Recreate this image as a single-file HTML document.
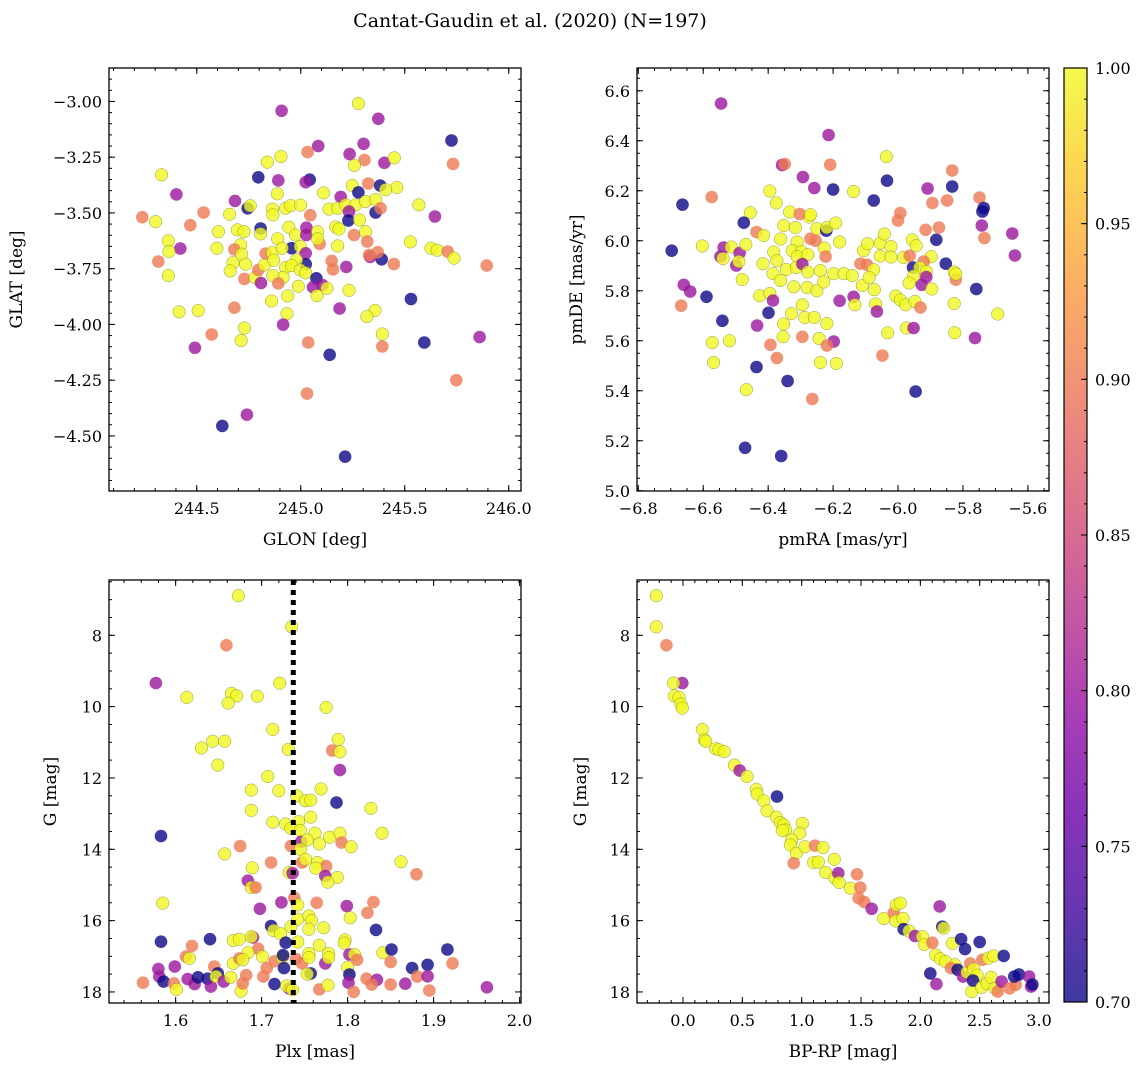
<!DOCTYPE html>
<html><head><meta charset="utf-8"><style>
html,body{margin:0;padding:0;background:#fff;}
svg{display:block;font-family:"DejaVu Serif","Liberation Serif",serif;}
</style></head><body>
<svg id="fig" width="1148" height="1068" viewBox="0 0 1148 1068" xmlns="http://www.w3.org/2000/svg">
<defs>
<linearGradient id="plasmaGrad" x1="0" y1="1" x2="0" y2="0">
<stop offset="0" stop-color="#0d0887"/><stop offset="0.1" stop-color="#41049d"/><stop offset="0.2" stop-color="#6a00a8"/><stop offset="0.3" stop-color="#8f0da4"/><stop offset="0.4" stop-color="#b12a90"/><stop offset="0.5" stop-color="#cc4778"/><stop offset="0.6" stop-color="#e16462"/><stop offset="0.7" stop-color="#f2844b"/><stop offset="0.8" stop-color="#fca636"/><stop offset="0.9" stop-color="#fcce25"/><stop offset="1" stop-color="#f0f921"/>
</linearGradient>
</defs>
<text x="530" y="27" font-size="19" text-anchor="middle">Cantat-Gaudin et al. (2020) (N=197)</text>
</svg>
<script>
// ---- data: panel 1 (GLON vs GLAT) ----
const p1Lon=[244.908,245.277,245.373,245.725,245.732,245.084,245.033,245.302,245.235,245.306,245.402,245.450,245.258,244.839,244.905,244.331,244.796,244.892,245.043,245.024,244.402,244.684,244.887,245.110,245.248,245.325,245.382,245.462,245.408,245.192,245.277,245.568,245.645,244.238,244.302,244.469,244.533,244.658,244.745,244.757,244.863,244.866,244.927,244.951,244.999,245.046,245.136,245.176,245.216,245.264,245.312,245.360,245.232,245.360,245.384,245.229,245.283,245.168,245.184,245.256,245.312,245.320,245.527,245.626,245.656,245.706,245.737,245.894,245.448,245.389,245.334,245.370,245.328,244.363,244.421,244.366,244.315,244.363,244.604,244.597,244.695,244.727,244.807,244.807,244.711,244.681,244.716,244.674,244.735,244.661,244.729,244.780,244.809,244.796,244.825,244.831,244.863,244.870,244.889,244.943,244.975,244.956,244.911,244.998,245.027,245.027,245.024,245.081,245.091,245.081,245.177,245.024,244.979,244.927,244.956,244.998,245.024,244.915,244.866,244.892,244.988,245.075,245.104,245.059,245.126,245.149,245.155,245.219,245.232,245.078,244.937,244.860,245.530,244.415,244.507,244.681,244.934,244.915,245.187,245.357,245.318,244.729,244.713,244.572,244.491,245.036,245.139,245.392,245.392,245.594,245.860,245.748,245.030,244.741,244.623,245.213];
const p1Lat=[-3.042,-3.009,-3.078,-3.175,-3.280,-3.200,-3.227,-3.190,-3.236,-3.263,-3.275,-3.253,-3.287,-3.272,-3.247,-3.329,-3.340,-3.354,-3.351,-3.362,-3.417,-3.446,-3.414,-3.410,-3.377,-3.368,-3.377,-3.386,-3.396,-3.428,-3.408,-3.464,-3.516,-3.519,-3.539,-3.555,-3.498,-3.506,-3.479,-3.468,-3.483,-3.509,-3.479,-3.467,-3.465,-3.510,-3.483,-3.479,-3.464,-3.464,-3.449,-3.440,-3.494,-3.498,-3.479,-3.534,-3.531,-3.563,-3.572,-3.599,-3.584,-3.628,-3.630,-3.658,-3.667,-3.673,-3.703,-3.736,-3.729,-3.708,-3.697,-3.676,-3.688,-3.625,-3.660,-3.673,-3.718,-3.781,-3.584,-3.658,-3.576,-3.584,-3.570,-3.594,-3.643,-3.664,-3.685,-3.723,-3.730,-3.760,-3.796,-3.790,-3.814,-3.756,-3.733,-3.682,-3.678,-3.712,-3.616,-3.564,-3.599,-3.658,-3.658,-3.651,-3.566,-3.599,-3.681,-3.584,-3.639,-3.616,-3.648,-3.730,-3.711,-3.745,-3.736,-3.756,-3.769,-3.789,-3.781,-3.816,-3.829,-3.793,-3.823,-3.833,-3.838,-3.715,-3.753,-3.742,-3.847,-3.871,-3.872,-3.895,-3.886,-3.944,-3.938,-3.925,-3.952,-4.001,-3.929,-3.937,-3.965,-4.016,-4.072,-4.045,-4.105,-4.081,-4.136,-4.043,-4.099,-4.081,-4.057,-4.250,-4.310,-4.405,-4.455,-4.593];
const p1Prob=("MYMBOMOMMO"+"MYYYYYBMBM"+"MMYYYOBYYM"+"BYMOYOOYBY"+"YYYYYOYYYY"+"YYMBOBYYYO"+"YOYYYOYOOB"+"MOOYMYOYYY"+"YYBYYOYYYY"+"OYMOYOYYYY"+"YBYYMMMYOY"+"YBYYYYYYYO"+"YBMMYOOMYY"+"YYBYYOYMMY"+"YYYOMOBYOB"+"MOOMBB").split('');
// ---- data: panel 2 (pmRA vs pmDE) ----
const p2Pmra=[-6.545,-6.214,-6.036,-6.209,-6.357,-6.349,-5.833,-6.293,-6.258,-6.200,-6.034,-5.909,-5.833,-5.749,-5.736,-5.740,-6.664,-6.574,-6.395,-6.137,-6.075,-5.894,-5.849,-6.375,-6.334,-6.274,-6.303,-6.455,-6.475,-5.993,-6.000,-5.742,-5.734,-5.648,-5.640,-5.874,-5.915,-5.882,-5.853,-5.759,-6.697,-6.603,-6.537,-6.547,-6.539,-6.514,-6.488,-6.498,-6.490,-6.469,-6.436,-6.414,-6.352,-6.316,-6.270,-6.250,-6.221,-6.219,-6.192,-6.180,-6.362,-6.311,-6.270,-6.254,-6.227,-6.223,-6.326,-6.297,-6.311,-6.278,-6.383,-6.373,-6.416,-6.385,-6.344,-6.313,-6.295,-6.278,-6.239,-6.362,-6.321,-6.280,-6.250,-6.229,-6.198,-6.167,-6.141,-6.116,-6.096,-6.110,-6.075,-6.089,-6.073,-6.106,-6.094,-6.055,-6.042,-6.022,-6.055,-6.022,-5.983,-5.964,-5.956,-5.944,-5.898,-5.921,-5.954,-5.933,-5.913,-5.913,-5.927,-5.952,-5.966,-5.896,-5.827,-5.822,-5.822,-6.007,-5.993,-5.976,-5.948,-5.931,-5.827,-5.693,-6.069,-6.137,-6.133,-6.180,-6.065,-6.032,-5.974,-5.952,-5.825,-5.763,-6.048,-6.668,-6.660,-6.640,-6.590,-6.541,-6.572,-6.519,-6.568,-6.480,-6.426,-6.395,-6.385,-6.399,-6.434,-6.393,-6.373,-6.354,-6.352,-6.328,-6.295,-6.287,-6.258,-6.295,-6.219,-6.243,-6.198,-6.219,-6.239,-6.190,-6.436,-6.340,-6.467,-6.264,-5.946,-6.471,-6.360];
const p2Pmde=[6.549,6.423,6.336,6.304,6.303,6.307,6.281,6.255,6.211,6.205,6.240,6.209,6.217,6.173,6.131,6.117,6.144,6.175,6.199,6.197,6.161,6.151,6.161,6.151,6.115,6.095,6.107,6.112,6.072,6.111,6.081,6.061,6.011,6.029,5.941,6.053,6.044,6.004,5.908,5.807,5.960,5.979,5.973,5.937,5.929,5.975,5.951,5.901,5.917,5.985,6.035,6.021,6.061,6.053,6.104,6.048,6.040,6.053,6.071,5.995,6.007,5.995,6.008,6.000,5.971,5.937,5.960,5.957,5.936,5.944,5.955,5.920,5.908,5.869,5.885,5.893,5.907,5.875,5.881,5.841,5.816,5.813,5.800,5.835,5.868,5.868,5.861,5.908,5.904,5.821,5.884,5.853,5.804,5.960,5.988,5.991,6.027,5.977,5.939,5.935,5.933,5.940,6.004,5.980,5.936,5.917,5.893,5.893,5.877,5.855,5.824,5.859,5.831,5.807,5.875,5.844,5.867,5.779,5.763,5.744,5.757,5.733,5.749,5.707,5.747,5.776,5.744,5.760,5.717,5.632,5.651,5.651,5.632,5.611,5.541,5.740,5.824,5.797,5.776,5.680,5.593,5.600,5.513,5.845,5.780,5.789,5.761,5.712,5.661,5.584,5.531,5.616,5.667,5.709,5.744,5.693,5.693,5.616,5.669,5.609,5.597,5.581,5.513,5.509,5.495,5.439,5.404,5.367,5.397,5.172,5.139];
const p2Prob=("MMYOMOOMMB"+"BMBOBBBOYY"+"BOOYYYOYBO"+"OMOMMOOBBB"+"BYMMYYMMYY"+"OYYYYYBYYY"+"YYOOYOYYYY"+"YYYYYYMYYY"+"YYYYYYYOOY"+"YYYYYYYYYY"+"YOYYYOBYYM"+"MYYYYOYYYY"+"YOYYYMYMMY"+"YMYMOOMMBB"+"YYYYYYMBMO"+"OYYYYYYOYY"+"MOYYBBYOBBB").split('');
// ---- data: panel 3 (Plx vs G) ----
const p3Plx=[1.673,1.735,1.659,1.577,1.613,1.665,1.671,1.661,1.695,1.721,1.775,1.713,1.630,1.643,1.657,1.649,1.731,1.789,1.782,1.791,1.791,1.707,1.688,1.720,1.769,1.741,1.751,1.757,1.787,1.827,1.688,1.713,1.728,1.743,1.757,1.734,1.745,1.762,1.779,1.791,1.746,1.753,1.767,1.793,1.804,1.734,1.745,1.840,1.583,1.657,1.675,1.711,1.689,1.747,1.751,1.765,1.775,1.763,1.732,1.736,1.774,1.788,1.777,1.862,1.880,1.684,1.688,1.693,1.585,1.698,1.723,1.738,1.742,1.764,1.799,1.803,1.830,1.823,1.742,1.755,1.758,1.755,1.772,1.711,1.714,1.722,1.734,1.728,1.742,1.833,1.583,1.640,1.619,1.667,1.674,1.690,1.688,1.696,1.684,1.701,1.667,1.674,1.678,1.612,1.616,1.599,1.580,1.581,1.586,1.562,1.598,1.601,1.614,1.622,1.626,1.637,1.641,1.645,1.649,1.647,1.656,1.664,1.676,1.678,1.682,1.702,1.706,1.715,1.715,1.724,1.725,1.726,1.732,1.729,1.736,1.740,1.747,1.755,1.755,1.767,1.757,1.753,1.774,1.778,1.778,1.767,1.777,1.797,1.796,1.800,1.802,1.808,1.811,1.802,1.801,1.807,1.822,1.834,1.828,1.841,1.850,1.851,1.850,1.867,1.875,1.881,1.893,1.893,1.895,1.916,1.922,1.962];
const p3G=[6.89,7.76,8.28,9.34,9.74,9.63,9.70,9.90,9.71,9.34,10.02,10.64,11.16,10.97,10.97,11.64,11.20,10.92,11.23,11.27,11.78,11.96,12.34,12.36,12.31,12.50,12.64,12.62,12.69,12.85,12.91,13.24,13.29,13.22,13.10,13.41,13.47,13.55,13.66,13.55,13.79,13.74,13.85,13.81,13.93,13.91,14.00,13.55,13.63,14.13,13.91,14.37,14.52,14.37,14.28,14.37,14.47,14.53,14.65,14.67,14.75,14.79,14.92,14.35,14.70,14.88,15.07,15.07,15.51,15.67,15.49,15.36,15.56,15.50,15.59,15.92,15.48,15.78,15.96,15.87,16.00,16.24,16.20,16.15,16.28,16.37,16.17,16.62,16.60,16.26,16.59,16.52,16.71,16.56,16.52,16.47,16.45,16.79,16.90,17.01,17.20,17.06,17.10,17.01,17.06,17.29,17.36,17.57,17.71,17.74,17.76,17.93,17.64,17.78,17.59,17.63,17.85,17.29,17.48,17.57,17.71,17.59,17.98,17.76,17.53,17.57,17.33,17.78,17.14,17.03,16.97,17.33,17.90,17.83,17.94,17.08,17.20,16.92,17.03,16.69,17.48,17.50,17.20,16.92,17.04,17.93,17.81,16.54,16.63,17.31,16.95,16.95,17.10,17.51,17.74,18.00,17.63,17.66,17.79,16.90,17.16,16.81,17.79,17.77,17.33,17.57,17.24,17.56,17.96,16.81,17.20,17.87];
const p3Prob=("YYOMYYYYYY"+"YYYYYYYYOY"+"MYYYYYYYBY"+"YYYYYYYYYY"+"MYYOYOYYBY"+"OOYOYYOYYM"+"MYYYOMYOYM"+"MOYOMYOOYY"+"YYYBYYYBYB"+"BBOYYMYOYY"+"YOYOYMMMBO"+"OYMMBBMOBY"+"MYYOOOOBOY"+"BBMYYOOYYY"+"BYMYYOYYYY"+"MYOBMOOMOY"+"OBOMBOBMOBOM").split('');
const plxMean=[1.7368];
// ---- data: panel 4 (BP-RP vs G) ----
const p4Bprp=[-0.225,-0.225,-0.140,-0.006,-0.079,-0.073,-0.034,-0.017,-0.006,0.163,0.180,0.191,0.275,0.303,0.348,0.433,0.478,0.539,0.618,0.624,0.680,0.708,0.792,0.787,0.820,0.848,0.865,0.837,1.006,0.983,0.916,0.904,0.955,0.933,1.028,1.112,1.180,1.101,1.140,1.202,1.275,1.281,1.309,1.315,1.410,1.466,1.494,1.480,1.528,1.590,1.691,1.775,1.798,1.831,1.792,1.854,1.860,1.904,1.955,2.017,2.034,2.101,2.163,2.185,2.197,2.084,2.135,2.129,2.169,2.270,2.213,2.292,2.258,2.343,2.376,2.315,2.360,2.393,2.421,2.500,2.522,2.449,2.478,2.433,2.444,2.517,2.562,2.596,2.573,2.618,2.702,2.629,2.652,2.685,2.753,2.803,2.792,2.831,2.916,2.933,2.944];
const p4G=[6.89,7.76,8.28,9.34,9.34,9.70,9.74,9.93,10.04,10.64,10.93,10.97,11.18,11.21,11.26,11.64,11.79,11.96,12.32,12.45,12.64,12.92,12.52,13.10,13.25,13.32,13.46,13.47,13.27,13.55,13.74,13.88,14.11,14.39,13.93,13.90,13.95,14.37,14.36,14.65,14.28,14.81,14.67,14.93,15.09,14.70,15.07,15.37,15.48,15.67,15.94,15.79,15.56,15.51,16.01,15.94,16.24,16.29,16.43,16.45,16.67,16.62,15.60,16.17,16.21,17.48,17.78,16.96,17.07,16.64,17.15,17.24,17.33,16.52,16.80,17.38,17.57,17.45,17.20,16.60,17.10,17.36,17.53,17.99,17.68,17.87,17.76,17.59,17.05,16.99,16.99,17.90,17.99,17.71,17.90,17.80,17.57,17.51,17.57,17.85,17.79];
const p4Prob=("YYOMYYYYYY"+"YYYYYYMYYY"+"YYBYYYYYYY"+"YYYOYOYYYY"+"YYMYYOOOOM"+"YOYYYYBYMY"+"YOMBYBMYYY"+"YYOBBBMYOB"+"OYYYBYYYYY"+"BYOMOOBBMMB").split('');
const probCode={Y:1.0,O:0.9,M:0.8,B:0.7};
// ---- colorbar ticks ----
const cbTicks=[0.70,0.75,0.80,0.85,0.90,0.95,1.00];

const NS='http://www.w3.org/2000/svg';
const svg=document.getElementById('fig');
function el(tag,attrs,parent){const e=document.createElementNS(NS,tag);for(const k in attrs)e.setAttribute(k,attrs[k]);(parent||svg).appendChild(e);return e;}
const stops=['#0d0887','#41049d','#6a00a8','#8f0da4','#b12a90','#cc4778','#e16462','#f2844b','#fca636','#fcce25','#f0f921'];
function hex(h){return [parseInt(h.substr(1,2),16),parseInt(h.substr(3,2),16),parseInt(h.substr(5,2),16)];}
function plasma(v){let t=Math.max(0,Math.min(1,(v-0.7)/0.3))*10;const i=Math.min(9,Math.floor(t)),f=t-i;const a=hex(stops[i]),b=hex(stops[i+1]);return 'rgb('+a.map((c,k)=>Math.round(c+(b[k]-c)*f)).join(',')+')';}
function fmt(v,d){return (v<0?'\u2212':'')+Math.abs(v).toFixed(d);}

function panel(cfg){
  const g=el('g',{});
  
  
  const B=cfg.box;
  const sx=v=>B.x+(v-cfg.xd[0])/(cfg.xd[1]-cfg.xd[0])*B.w;
  const sy=cfg.yInv?(v=>B.y+(v-cfg.yd[0])/(cfg.yd[1]-cfg.yd[0])*B.h):(v=>B.y+B.h-(v-cfg.yd[0])/(cfg.yd[1]-cfg.yd[0])*B.h);
  // points
  const pg=el('g',{},g);
  
  
  const n=Math.min(cfg.xs.length,cfg.ys.length,cfg.cs.length);
  for(let i=0;i<n;i++){
    const c=probCode[cfg.cs[i]];
    const cx=sx(cfg.xs[i]),cy=sy(cfg.ys[i]);
    if(cx<B.x||cx>B.x+B.w||cy<B.y||cy>B.y+B.h)continue;
    const p=el('circle',{cx:cx.toFixed(1),cy:cy.toFixed(1),r:6.3,fill:plasma(c),'fill-opacity':0.8,stroke:c>0.97?'#6f6f20':'none','stroke-width':0.5,'stroke-opacity':0.7},pg);
    
    
  }
  if(cfg.extra)cfg.extra(g,sx,sy);
  // ticks
  const tg=el('g',{stroke:'#000','stroke-width':1},g);
  const eps=1e-9;
  function xt(v,len){const x=sx(v);if(x<B.x-0.5||x>B.x+B.w+0.5)return;el('line',{x1:x,y1:B.y+B.h,x2:x,y2:B.y+B.h-len},tg);el('line',{x1:x,y1:B.y,x2:x,y2:B.y+len},tg);}
  function yt(v,len){const y=sy(v);if(y<B.y-0.5||y>B.y+B.h+0.5)return;el('line',{x1:B.x,y1:y,x2:B.x+len,y2:y},tg);el('line',{x1:B.x+B.w,y1:y,x2:B.x+B.w-len,y2:y},tg);}
  for(let v=Math.ceil(cfg.xd[0]/cfg.xmin-eps)*cfg.xmin;v<=cfg.xd[1]+eps;v+=cfg.xmin)xt(v,3);
  const ylo=Math.min(cfg.yd[0],cfg.yd[1]),yhi=Math.max(cfg.yd[0],cfg.yd[1]);
  for(let v=Math.ceil(ylo/cfg.ymin-eps)*cfg.ymin;v<=yhi+eps;v+=cfg.ymin)yt(v,3);
  cfg.xticks.forEach(v=>{xt(v,6);const t=el('text',{x:sx(v),y:B.y+B.h+23,'font-size':16,'text-anchor':'middle'},g);t.textContent=fmt(v,cfg.xdec);});
  cfg.yticks.forEach(v=>{yt(v,6);const t=el('text',{x:B.x-7,y:sy(v)+6,'font-size':16,'text-anchor':'end'},g);t.textContent=fmt(v,cfg.ydec);});
  const fr=el('rect',{x:B.x,y:B.y,width:B.w,height:B.h,fill:'none',stroke:'#000','stroke-width':1.3},g);
  
  
  const xl=el('text',{x:B.x+B.w/2,y:B.y+B.h+54,'font-size':17,'text-anchor':'middle'},g);
  xl.textContent=cfg.xlabel;
  
  
  const yl=el('text',{x:0,y:0,'font-size':17,'text-anchor':'middle',transform:'translate('+cfg.ylx+','+(B.y+B.h/2)+') rotate(-90)'},g);
  yl.textContent=cfg.ylabel;
  
  
}
function range(a,b,s){const r=[];for(let v=a;v<=b+1e-9;v+=s)r.push(Math.round(v*1000)/1000);return r;}

panel({name:'glon-glat-panel',box:{x:109,y:68,w:412,h:423},xd:[244.078,246.059],yd:[-4.747,-2.850],xs:p1Lon,ys:p1Lat,cs:p1Prob,
  xticks:range(244.5,246,0.5),xdec:1,xmin:0.1,yticks:range(-4.5,-3.0,0.25),ydec:2,ymin:0.05,xlabel:'GLON [deg]',ylabel:'GLAT [deg]',ylx:22});
panel({name:'proper-motion-panel',box:{x:637,y:68,w:412,h:423},xd:[-6.804,-5.535],yd:[4.999,6.691],xs:p2Pmra,ys:p2Pmde,cs:p2Prob,
  xticks:range(-6.8,-5.6,0.2),xdec:1,xmin:0.05,yticks:range(5.0,6.6,0.2),ydec:1,ymin:0.05,xlabel:'pmRA [mas/yr]',ylabel:'pmDE [mas/yr]',ylx:582});
panel({name:'parallax-mag-panel',box:{x:109,y:580,w:412,h:423},xd:[1.5225,2.0016],yd:[6.449,18.31],yInv:true,xs:p3Plx,ys:p3G,cs:p3Prob,
  xticks:range(1.6,2.0,0.1),xdec:1,xmin:0.02,yticks:range(8,18,2),ydec:0,ymin:0.5,xlabel:'Plx [mas]',ylabel:'G [mag]',ylx:56,
  extra:(g,sx,sy)=>{plxMean.forEach(m=>{const l=el('line',{x1:sx(m),y1:580,x2:sx(m),y2:1003,stroke:'#000','stroke-width':5,'stroke-dasharray':'5,5'},g);});}});
panel({name:'cmd-panel',box:{x:637,y:580,w:412,h:423},xd:[-0.3876,3.084],yd:[6.449,18.31],yInv:true,xs:p4Bprp,ys:p4G,cs:p4Prob,
  xticks:range(0,3,0.5),xdec:1,xmin:0.1,yticks:range(8,18,2),ydec:0,ymin:0.5,xlabel:'BP-RP [mag]',ylabel:'G [mag]',ylx:586});

// colorbar
const cb=el('g',{});


const cbx=1064,cbw=23,cby=68,cbh=934;
const cbr=el('rect',{x:cbx,y:cby,width:cbw,height:cbh,fill:'url(#plasmaGrad)','fill-opacity':0.8},cb);


const cys=v=>cby+cbh-(v-0.7)/0.3*cbh;
for(let i=0;i<=30;i++){const v=0.7+i*0.01;el('line',{x1:cbx+cbw,y1:cys(v),x2:cbx+cbw-3,y2:cys(v),stroke:'#000','stroke-width':1},cb);}
cbTicks.forEach(v=>{el('line',{x1:cbx+cbw,y1:cys(v),x2:cbx+cbw-6,y2:cys(v),stroke:'#000','stroke-width':1},cb);
  const t=el('text',{x:cbx+cbw+8,y:cys(v)+6,'font-size':16},cb);t.textContent=v.toFixed(2);
  
  });
el('rect',{x:cbx,y:cby,width:cbw,height:cbh,fill:'none',stroke:'#000','stroke-width':1.2},cb);
</script>
</body></html>
